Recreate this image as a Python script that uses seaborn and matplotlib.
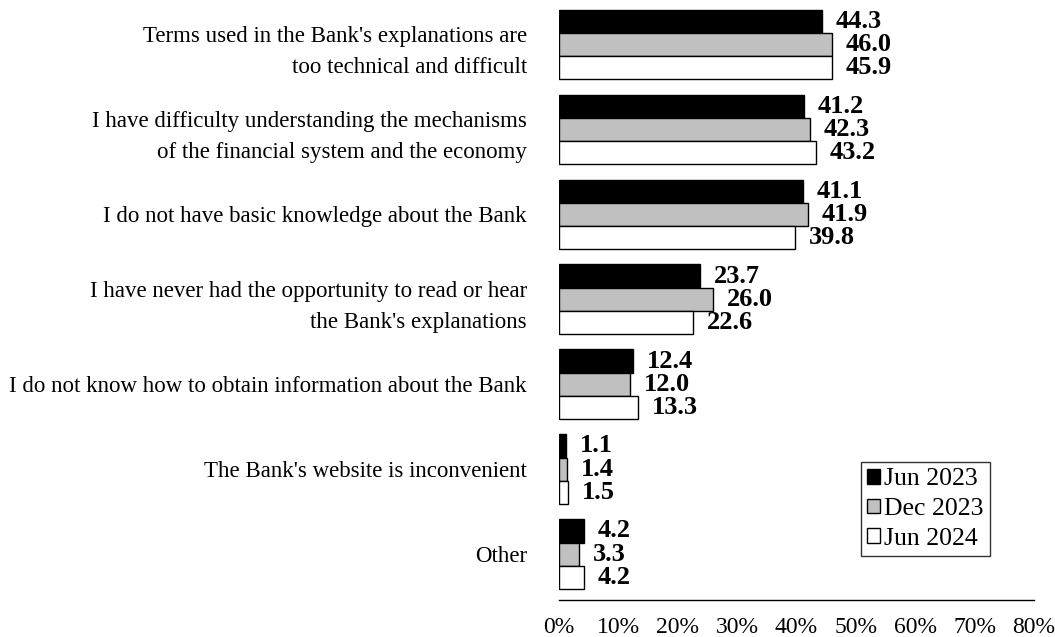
import pandas as pd
import matplotlib.pyplot as plt
import seaborn as sns

# data
categories = [
    "Terms used in the Bank's explanations are\ntoo technical and difficult",
    "I have difficulty understanding the mechanisms\nof the financial system and the economy",
    "I do not have basic knowledge about the Bank",
    "I have never had the opportunity to read or hear\nthe Bank's explanations",
    "I do not know how to obtain information about the Bank",
    "The Bank's website is inconvenient",
    "Other",
]
series = ["Jun 2023", "Dec 2023", "Jun 2024"]
jun_2023 = [44.3, 41.2, 41.1, 23.7, 12.4, 1.1, 4.2]
dec_2023 = [46.0, 42.3, 41.9, 26.0, 12.0, 1.4, 3.3]
jun_2024 = [45.9, 43.2, 39.8, 22.6, 13.3, 1.5, 4.2]
x_ticks = [0, 10, 20, 30, 40, 50, 60, 70, 80]
x_tick_labels = ['0%', '10%', '20%', '30%', '40%', '50%', '60%', '70%', '80%']

df = pd.DataFrame({
    'category': categories * 3,
    'survey': [s for s in series for _ in categories],
    'value': jun_2023 + dec_2023 + jun_2024,
})

sns.set_style('white')
plt.rcParams['font.family'] = ['Liberation Serif', 'DejaVu Serif']
plt.rcParams['text.color'] = 'black'
plt.rcParams['xtick.color'] = 'black'
plt.rcParams['ytick.color'] = 'black'

fig = plt.figure(figsize=(10.55, 6.37), dpi=100)
ax = fig.add_axes([559 / 1055, 1 - 600 / 637, 475 / 1055, 598 / 637])

sns.barplot(
    data=df, y='category', x='value', hue='survey', orient='h',
    palette=['black', '#c0c0c0', 'white'], edgecolor='black', linewidth=1,
    width=0.82, errorbar=None, ax=ax,
)

# value labels to the right of each bar
for cont in ax.containers:
    for bar in cont:
        w = bar.get_width()
        y = bar.get_y() + bar.get_height() / 2
        ax.annotate(f'{w:.1f}', (w, y), xytext=(10, 0), textcoords='offset points',
                    ha='left', va='center', fontsize=19, fontweight='bold')

ax.set_xlim(0, 80)
ax.set_ylim(6.54, -0.5)
ax.set_xticks(x_ticks)
ax.set_xticklabels(x_tick_labels, fontsize=17)
ax.set_xlabel('')
ax.set_ylabel('')
for lab in ax.get_yticklabels():
    lab.set_fontsize(16.5)
    lab.set_linespacing(1.65)
ax.tick_params(axis='y', length=0, pad=23)
ax.tick_params(axis='x', direction='in', length=5, width=1, color='black', pad=12)
for side in ['left', 'right', 'top']:
    ax.spines[side].set_visible(False)
ax.spines['bottom'].set_color('black')
ax.spines['bottom'].set_linewidth(1)

handles, labels = ax.get_legend_handles_labels()
ax.legend(handles, labels, loc='upper left',
          bbox_to_anchor=(861 / 1055, 1 - 462 / 637), bbox_transform=fig.transFigure,
          fontsize=18.5, frameon=True, fancybox=False, edgecolor='black',
          handlelength=0.5, handleheight=0.5, handletextpad=0.15,
          borderpad=0.25, labelspacing=0.3, borderaxespad=0)
ax.get_legend().get_frame().set_linewidth(1)

plt.savefig('out.png', dpi=100)
